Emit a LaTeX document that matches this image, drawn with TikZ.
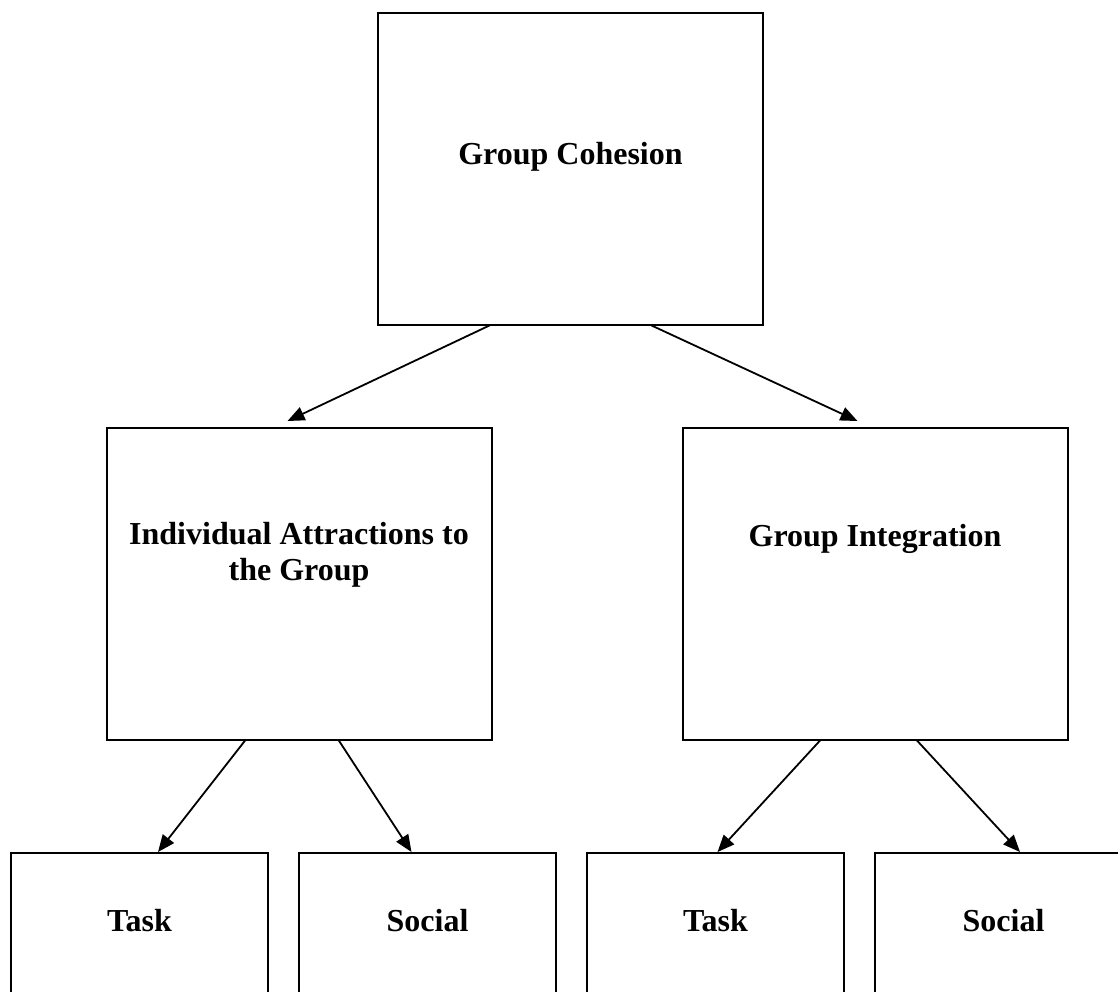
\documentclass[tikz,border=0pt]{standalone}
\usepackage{fontspec}
\setmainfont{Liberation Serif}
\usetikzlibrary{arrows.meta}
\begin{document}
\begin{tikzpicture}[x=1pt,y=-1pt,
  box/.style={draw=black,line width=2pt,rectangle,inner sep=0pt,outer sep=0pt,anchor=north west},
  bigbox/.style={box,minimum width=385pt,minimum height=312pt},
  smallbox/.style={box,minimum width=257pt,minimum height=220pt},
  lbl/.style={font=\fontsize{32}{36}\selectfont\bfseries,anchor=base,inner sep=0pt},
  arr/.style={-{Triangle[length=17pt,width=14pt]},line width=1.8pt,draw=black}]
\useasboundingbox (0,0) rectangle (1118,991);
\clip (0,0) rectangle (1118,991);
% boxes
\node[bigbox] (top) at (378,13) {};
\node[bigbox] (midL) at (107,428) {};
\node[bigbox] (midR) at (683,428) {};
\node[smallbox] (b1) at (11,853) {};
\node[smallbox] (b2) at (299,853) {};
\node[smallbox] (b3) at (587,853) {};
\node[smallbox] (b4) at (875,853) {};
% labels
\node[lbl] (ttop) at (570.5,164) {Group Cohesion};
\node[lbl] (tmidLa) at (299,544) {Individual Attractions to};
\node[lbl] (tmidLb) at (299,580) {the Group};
\node[lbl] (tmidR) at (875,546) {Group Integration};
\node[lbl] (tb1) at (139.5,931) {Task};
\node[lbl] (tb2) at (427.5,931) {Social};
\node[lbl] (tb3) at (715.5,931) {Task};
\node[lbl] (tb4) at (1003.5,931) {Social};
% connectors
\draw[arr] ([xshift=-80pt]top.south) -- ([xshift=-12pt,yshift=7pt]midL.north);
\draw[arr] ([xshift=80pt]top.south) -- ([xshift=-18pt,yshift=7pt]midR.north);
\draw[arr] ([xshift=-54pt]midL.south) -- ([xshift=18.5pt,yshift=1pt]b1.north);
\draw[arr] ([xshift=39pt]midL.south) -- ([xshift=-16pt,yshift=1pt]b2.north);
\draw[arr] ([xshift=-55pt]midR.south) -- ([xshift=2pt,yshift=1pt]b3.north);
\draw[arr] ([xshift=41pt]midR.south) -- ([xshift=16.5pt,yshift=1pt]b4.north);
\end{tikzpicture}
\end{document}
